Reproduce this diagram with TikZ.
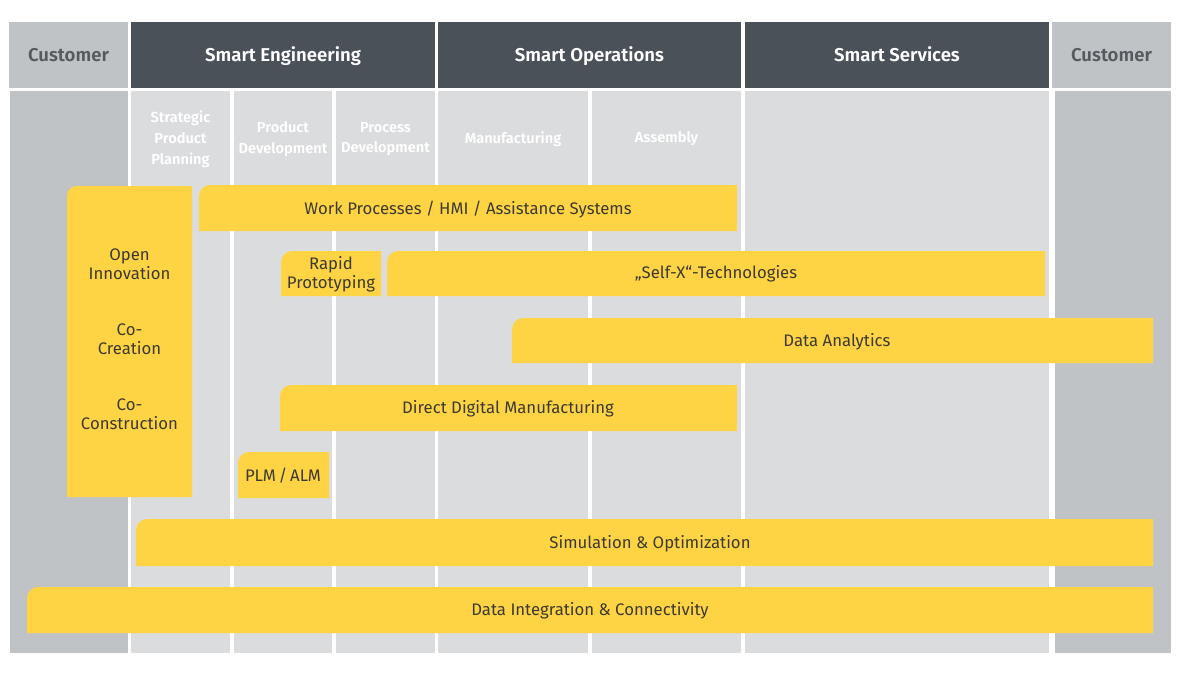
\documentclass[tikz,border=0pt]{standalone}
\usepackage{fontspec}
\setmainfont{Fira Sans}
\IfFontExistsTF{Fira Sans SemiBold}{\newfontfamily\headfont{Fira Sans SemiBold}}{\newfontfamily\headfont{Fira Sans}[UprightFont=*, BoldFont=*]\def\headfontbold{1}}
\usepackage{tikz}
\usetikzlibrary{positioning}
\usepackage{xcolor}
\definecolor{sfdark}{RGB}{74,81,88}
\definecolor{sfgray}{RGB}{219,220,222}
\definecolor{sfcust}{RGB}{192,195,198}
\definecolor{sfcusttext}{RGB}{85,90,96}
\definecolor{sfyellow}{RGB}{255,212,68}
\definecolor{sftext}{RGB}{60,58,48}
\tikzstyle{headbox} = [rectangle, minimum height=1.65cm, inner sep=0pt, text height=9.2pt, text depth=0pt, fill=sfdark, text=white, font=\fontsize{13.2}{15}\headfont]
\tikzstyle{custhead} = [headbox, fill=sfcust, text=sfcusttext]
\tikzstyle{colbox} = [rectangle, minimum height=14.05cm, inner sep=0pt, fill=sfgray]
\tikzstyle{collabel} = [align=center, text=white, font=\fontsize{10.4}{14.8}\headfont]
\tikzstyle{bartext} = [align=center, text=sftext, font=\fontsize{11.9}{13.2}\selectfont]
\tikzstyle{barfill} = [fill=sfyellow]

\begin{document}
\begin{tikzpicture}[x=0.025cm, y=-0.025cm]
\useasboundingbox (0,0) rectangle (1200,679);

% Header row
\node[custhead, minimum width=2.975cm] (custL) at (68.5,55) {Customer};
\node[headbox, minimum width=7.6cm] (seng) at (283,55) {Smart Engineering};
\node[headbox, minimum width=7.575cm] (sops) at (589.5,55) {Smart Operations};
\node[headbox, minimum width=7.6cm] (ssrv) at (897,55) {Smart Services};
\node[custhead, minimum width=2.975cm] (custR) at (1111.5,55) {Customer};

% Columns
\node[colbox, fill=sfcust, minimum width=2.95cm] (colcustL) at (69,372) {};
\node[colbox, minimum width=2.475cm] (colspp) at (180.5,372) {};
\node[colbox, minimum width=2.45cm] (colpdev) at (283,372) {};
\node[colbox, minimum width=2.475cm] (colprdev) at (385.5,372) {};
\node[colbox, minimum width=3.75cm] (colmanu) at (513,372) {};
\node[colbox, minimum width=3.725cm] (colasm) at (666.5,372) {};
\node[colbox, minimum width=7.6cm] (colsrv) at (897,372) {};
\node[colbox, fill=sfcust, minimum width=2.9cm] (colcustR) at (1113,372) {};

% Column labels
\node[collabel] (lspp) at (180.5,139) {Strategic\\Product\\Planning};
\node[collabel] (lpdev) at (283,139) {Product\\Development};
\node[collabel] (lprdev) at (385.5,139) {Process\\Development};
\node[collabel] (lmanu) at (513,139) {Manufacturing};
\node[collabel] (lasm) at (666.5,139) {Assembly};

% Open innovation block
\fill[barfill] (67,497) [rounded corners=7pt] -- (67,186) [sharp corners] -- (192,186) -- (192,497) -- cycle;
\node[bartext] (openinno) at (129.5,264) {Open\\Innovation};
\node[bartext] (cocreate) at (129.5,339) {Co-\\Creation};
\node[bartext] (coconstr) at (129.5,414) {Co-\\Construction};

% Bars
\fill[barfill] (199,231) [rounded corners=8pt] -- (199,185) [sharp corners] -- (737,185) -- (737,231) -- cycle;
\node[bartext] (work) at (468,210) {Work Processes / HMI / Assistance Systems};

\fill[barfill] (281,296) [rounded corners=8pt] -- (281,251) [sharp corners] -- (381,251) -- (381,296) -- cycle;
\node[bartext] (rapid) at (331,274) {Rapid\\Prototyping};

\fill[barfill] (387,296) [rounded corners=8pt] -- (387,251) [sharp corners] -- (1045,251) -- (1045,296) -- cycle;
\node[bartext] (selfx) at (716,274) {„Self-X“-Technologies};

\fill[barfill] (512,363) [rounded corners=8pt] -- (512,318) [sharp corners] -- (1153,318) -- (1153,363) -- cycle;
\node[bartext] (analytics) at (837,342) {Data Analytics};

\fill[barfill] (280,431) [rounded corners=8pt] -- (280,385) [sharp corners] -- (737,385) -- (737,431) -- cycle;
\node[bartext] (ddm) at (508,409) {Direct Digital Manufacturing};

\fill[barfill] (238,498) [rounded corners=8pt] -- (238,452) [sharp corners] -- (329,452) -- (329,498) -- cycle;
\node[bartext] (plm) at (283,476) {PLM\,/\,ALM};

\fill[barfill] (136,566) [rounded corners=8pt] -- (136,519) [sharp corners] -- (1153,519) -- (1153,566) -- cycle;
\node[bartext] (simu) at (650,544) {Simulation \& Optimization};

\fill[barfill] (27,633) [rounded corners=8pt] -- (27,587) [sharp corners] -- (1153,587) -- (1153,633) -- cycle;
\node[bartext] (integr) at (590,611) {Data Integration \& Connectivity};
\end{tikzpicture}
\end{document}
